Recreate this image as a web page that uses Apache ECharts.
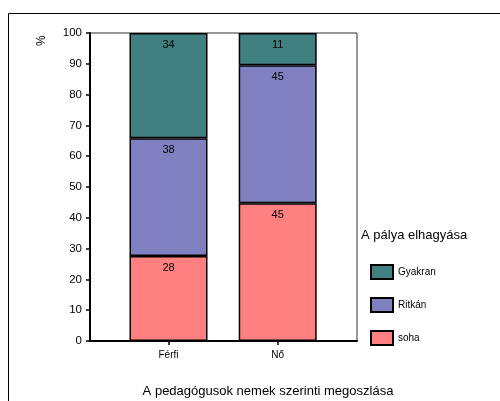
<!DOCTYPE html>
<html><head><meta charset="utf-8">
<script src="https://cdn.jsdelivr.net/npm/echarts@6/dist/echarts.min.js"></script>
<style>html,body{margin:0;padding:0;background:#fff}#c{width:500px;height:401px}</style>
</head><body><div id="c"></div>
<script>
const categories = ['Férfi', 'Nő'];
const soha = [27.6, 44.7];
const ritkan = [38.2, 44.8];
const gyakran = [34.2, 10.5];
const legendOrder = ['Gyakran', 'Ritkán', 'soha'];

const colors = {soha: '#ff8080', 'Ritkán': '#8080c0', Gyakran: '#408080'};
const FONT = 'Liberation Sans, Arial';
const chart = echarts.init(document.getElementById('c'), null, {renderer: 'canvas'});
function mk(name, vals) {
  return {
    name: name, type: 'bar', stack: 'total', barWidth: 78,
    xAxisIndex: 0, yAxisIndex: 0,
    data: vals,
    itemStyle: {color: colors[name], borderColor: '#000', borderWidth: 1.5},
    label: {show: true, position: 'insideTop', distance: 6, color: '#000',
      fontFamily: FONT, fontSize: 11,
      formatter: p => Math.round(p.value)}
  };
}
chart.setOption({
  animation: false,
  grid: [
    {left: 113.9, right: 167.7, top: 33, bottom: 60},
    {left: 90, right: 143, top: 33, bottom: 60, show: true, borderColor: '#333', borderWidth: 1}
  ],
  xAxis: [
    {type: 'category', gridIndex: 0, data: categories,
      axisLine: {show: false},
      axisTick: {show: true, alignWithLabel: true, length: 4, lineStyle: {color: '#000', width: 1.5}},
      axisLabel: {color: '#000', fontFamily: FONT, fontSize: 10, margin: 9}},
    {type: 'value', gridIndex: 1, min: 0, max: 1,
      axisLine: {show: true, onZero: false, lineStyle: {color: '#000', width: 2}},
      axisTick: {show: false}, axisLabel: {show: false}, splitLine: {show: false}}
  ],
  yAxis: [
    {type: 'value', gridIndex: 0, min: 0, max: 100, interval: 10, show: false},
    {type: 'value', gridIndex: 1, min: 0, max: 100, interval: 10,
      axisLine: {show: true, onZero: false, lineStyle: {color: '#000', width: 2}},
      axisTick: {show: true, length: 4, lineStyle: {color: '#000', width: 1.5}},
      axisLabel: {color: '#000', fontFamily: FONT, fontSize: 11.5, margin: 8},
      splitLine: {show: false}}
  ],
  title: {
    text: 'A pedagógusok nemek szerinti megoszlása', left: 263, textAlign: 'center', top: 380,
    textStyle: {fontFamily: FONT, fontSize: 13, fontWeight: 'normal', color: '#000'}
  },
  legend: {
    data: legendOrder, orient: 'vertical', left: 365, top: 259,
    itemWidth: 22, itemHeight: 14, itemGap: 17,
    textStyle: {fontFamily: FONT, fontSize: 10, color: '#000'},
    icon: 'rect'
  },
  graphic: [
    {type: 'rect', shape: {x: 8.5, y: 13.5, width: 600, height: 500}, style: {fill: 'none', stroke: '#000', lineWidth: 1}, silent: true, z: -10},
    {type: 'text', x: 361, y: 229, style: {text: 'A pálya elhagyása', font: '13px ' + FONT, fill: '#000'}},
    {type: 'text', x: 36, y: 46, rotation: Math.PI / 2, style: {text: '%', font: '12px ' + FONT, fill: '#000'}}
  ],
  series: [mk('soha', soha), mk('Ritkán', ritkan), mk('Gyakran', gyakran)]
});
</script></body></html>
